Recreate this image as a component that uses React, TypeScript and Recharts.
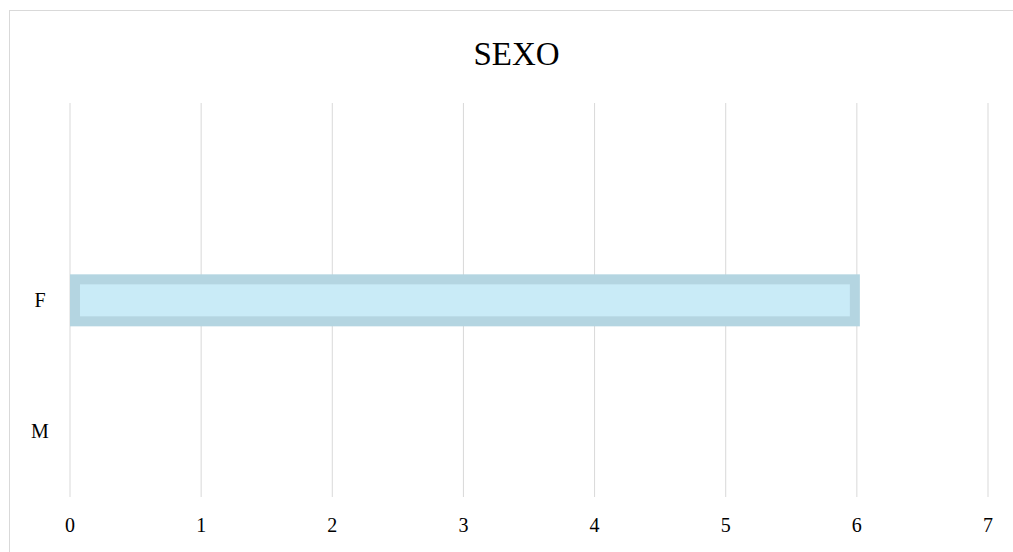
import React from "react";
import { BarChart, Bar, XAxis, YAxis, CartesianGrid } from "recharts";

const categories = ["", "F", "M"];
const counts = [0, 6, 0];
const xTicks = [0, 1, 2, 3, 4, 5, 6, 7];
const title = "SEXO";

const data = categories.map((c, i) => ({ cat: c, value: counts[i] }));

const FONT = "'Liberation Serif', 'Times New Roman', serif";

const BarShape = (props: any) => {
  const { x, y, width, height } = props;
  if (!width || width <= 0) return null;
  const b = 10;
  return (
    <g>
      <rect x={x} y={y} width={width + 3} height={height} fill="#B4D5E1" />
      <rect x={x + b} y={y + b} width={width + 3 - 2 * b} height={height - 2 * b} fill="#C9EBF7" />
    </g>
  );
};

const YTick = (props: any) => {
  const { y, payload } = props;
  return (
    <text x={40} y={y} dy={7} textAnchor="middle" fontFamily={FONT} fontSize={20} fill="#000">
      {payload.value}
    </text>
  );
};

const XTick = (props: any) => {
  const { x, y, payload } = props;
  return (
    <text x={x} y={y} dy={27} textAnchor="middle" fontFamily={FONT} fontSize={20} fill="#000">
      {payload.value}
    </text>
  );
};

export default function App() {
  return (
    <div style={{ position: "absolute", left: 0, top: 0, width: 1013, height: 552, overflow: "hidden", background: "#fff" }}>
      <div style={{ position: "absolute", left: 9, top: 10, width: 1100, height: 700, border: "1px solid #D9D9D9", boxSizing: "border-box" }} />
      <div style={{ position: "absolute", left: 0, top: 0, width: 1013, textAlign: "center", fontFamily: FONT, fontSize: 33, lineHeight: "33px", paddingTop: 38, color: "#000", zIndex: 2 }}>
        <span style={{ position: "relative", left: 10 }}>{title}</span>
      </div>
      <div style={{ position: "absolute", left: 0, top: 0 }}>
        <BarChart
          width={1013}
          height={552}
          data={data}
          layout="vertical"
          margin={{ top: 103, right: 25, bottom: 0, left: 10 }}
          barSize={52}
        >
          <CartesianGrid horizontal={false} vertical={true} stroke="#D9D9D9" strokeWidth={1} />
          <XAxis
            type="number"
            domain={[0, 7]}
            ticks={xTicks}
            axisLine={false}
            tickLine={false}
            tick={<XTick />}
            interval={0}
            height={55}
          />
          <YAxis
            type="category"
            dataKey="cat"
            axisLine={false}
            tickLine={false}
            tick={<YTick />}
            width={60}
            interval={0}
          />
          <Bar dataKey="value" shape={<BarShape />} isAnimationActive={false} />
        </BarChart>
      </div>
    </div>
  );
}
